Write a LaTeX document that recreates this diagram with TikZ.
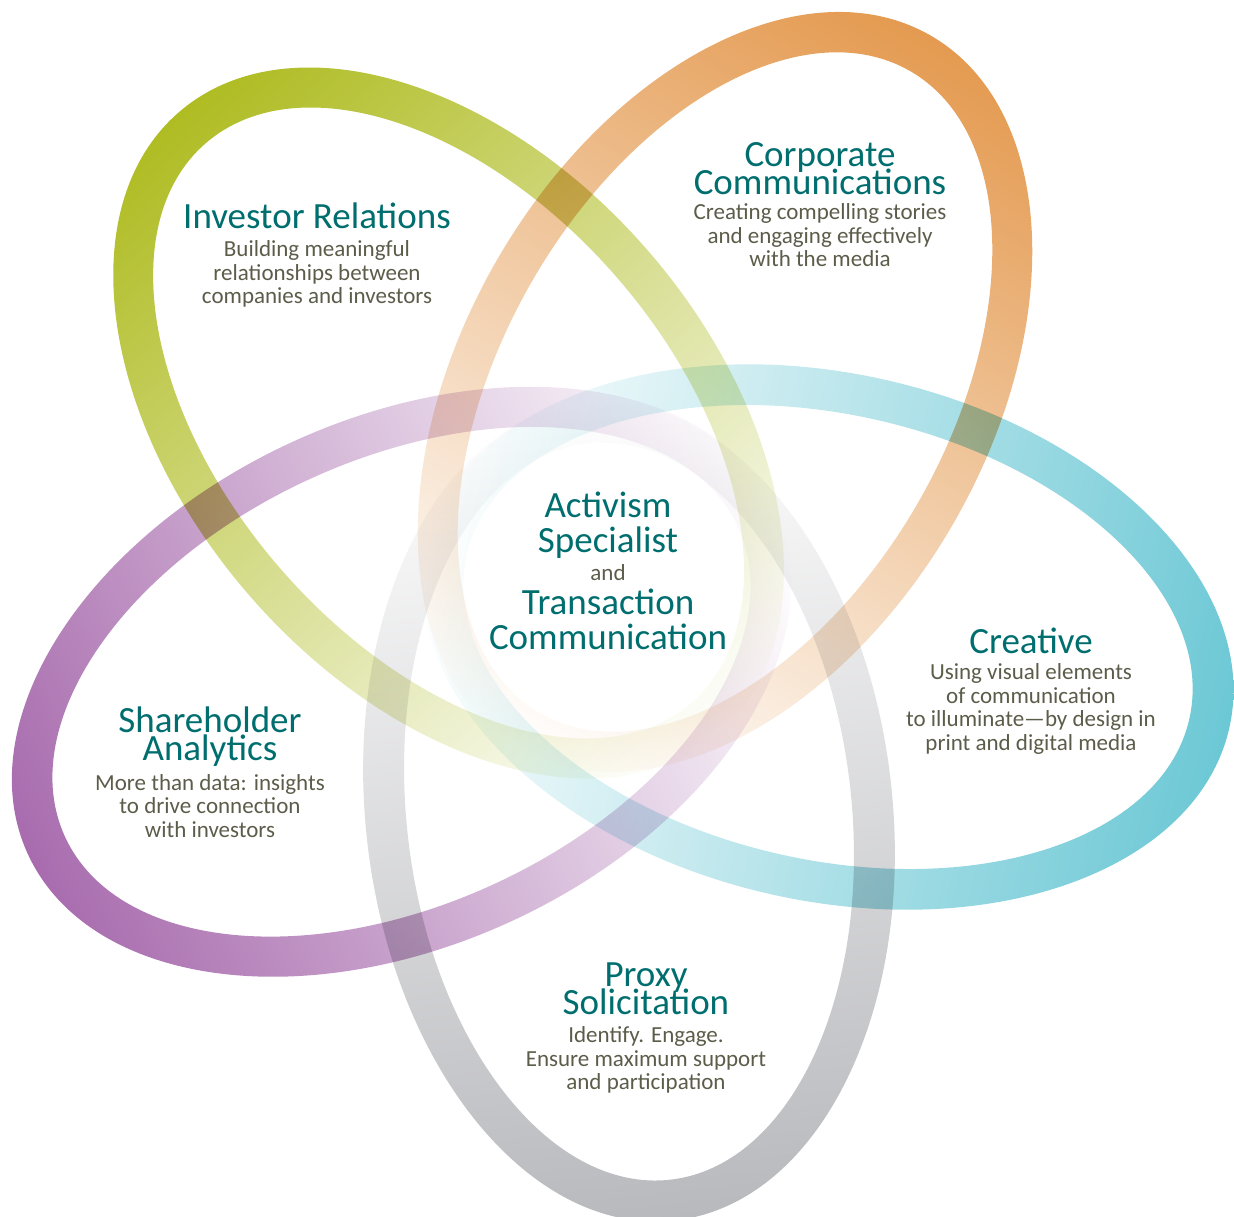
\documentclass[tikz,border=0pt]{standalone}
\usepackage{fontspec}
\setmainfont{Carlito}
\usepackage{tikz}
\usetikzlibrary{positioning}
\def\ringa{391}
\def\ringb{243}
\def\ringw{41}
\newcommand{\tightlines}{\lineskiplimit -50pt\relax}
\definecolor{ir-green}{RGB}{175, 188, 34}
\definecolor{cc-orange}{RGB}{228, 154, 80}
\definecolor{cr-teal}{RGB}{108, 200, 213}
\definecolor{sa-purple}{RGB}{168, 108, 174}
\definecolor{ps-gray}{RGB}{184, 185, 189}
\definecolor{head-teal}{RGB}{0, 110, 110}
\definecolor{blurb-gray}{RGB}{92, 92, 74}
\tikzstyle{heading} = [text=head-teal, align=center, inner sep=0, font={\fontsize{37pt}{28pt}\selectfont\tightlines}]
\tikzstyle{blurb} = [text=blurb-gray, align=center, inner sep=0, font={\fontsize{23pt}{23.6pt}\selectfont\tightlines}]
\tikzstyle{centre heading} = [heading, font={\fontsize{37pt}{34.5pt}\selectfont\tightlines}]
\newcommand{\tikzring}[4]{% centre x, centre y, angle of the dark end, colour
  \begin{scope}[transform canvas={shift={(#1, #2)}, rotate=#3}]
    \shade[even odd rule, left color=white, right color=#4]
      (0,0) ellipse ({(\ringa+\ringw/2)*1pt} and {(\ringb+\ringw/2)*1pt})
      (0,0) ellipse ({(\ringa-\ringw/2)*1pt} and {(\ringb-\ringw/2)*1pt});
  \end{scope}}
\begin{document}
\begin{tikzpicture}[x=1pt, y=-1pt, node distance=10pt]
    \useasboundingbox (0, 0) rectangle (1234, 1216);

    % rings
    \begin{scope}[blend mode=multiply]
      \tikzring{629}{811.5}{-83.6}{ps-gray}
      \tikzring{828}{637}{-12.8}{cr-teal}
      \tikzring{725}{392}{60}{cc-orange}
      \tikzring{448.6}{423}{131}{ir-green}
      \tikzring{401.5}{681.75}{204.8}{sa-purple}
    \end{scope}

    % labels (base = baseline of the last line)
    \node[heading, anchor=base] at (317, 228) (ir) {Investor Relations};
    \node[blurb, below=12pt of ir] (ir-text) {Building meaningful\\relationships between\\companies and investors};

    \node[heading, anchor=base] at (820, 194) (cc) {Corporate\\Communications};
    \node[blurb, below=9pt of cc] (cc-text) {Creating compelling stories\\and engaging effectively\\with the media};

    \node[centre heading, anchor=base] at (608, 552) (as) {Activism\\Specialist};
    \node[blurb, anchor=base] at (608, 580) (and) {and};
    \node[centre heading, anchor=base] at (608, 649) (tc) {Transaction\\Communication};

    \node[heading, anchor=base] at (1031, 653) (cr) {Creative};
    \node[blurb, below=10pt of cr] (cr-text) {Using visual elements\\of communication\\to illuminate—by design in\\print and digital media};

    \node[heading, anchor=base] at (210, 760) (sa) {Shareholder\\Analytics};
    \node[blurb, below=8pt of sa] (sa-text) {More than data: insights\\to drive connection\\with investors};

    \node[heading, anchor=base] at (646, 1014) (ps) {Proxy\\Solicitation};
    \node[blurb, below=12pt of ps] (ps-text) {Identify. Engage.\\Ensure maximum support\\and participation};
  \end{tikzpicture}
\end{document}
